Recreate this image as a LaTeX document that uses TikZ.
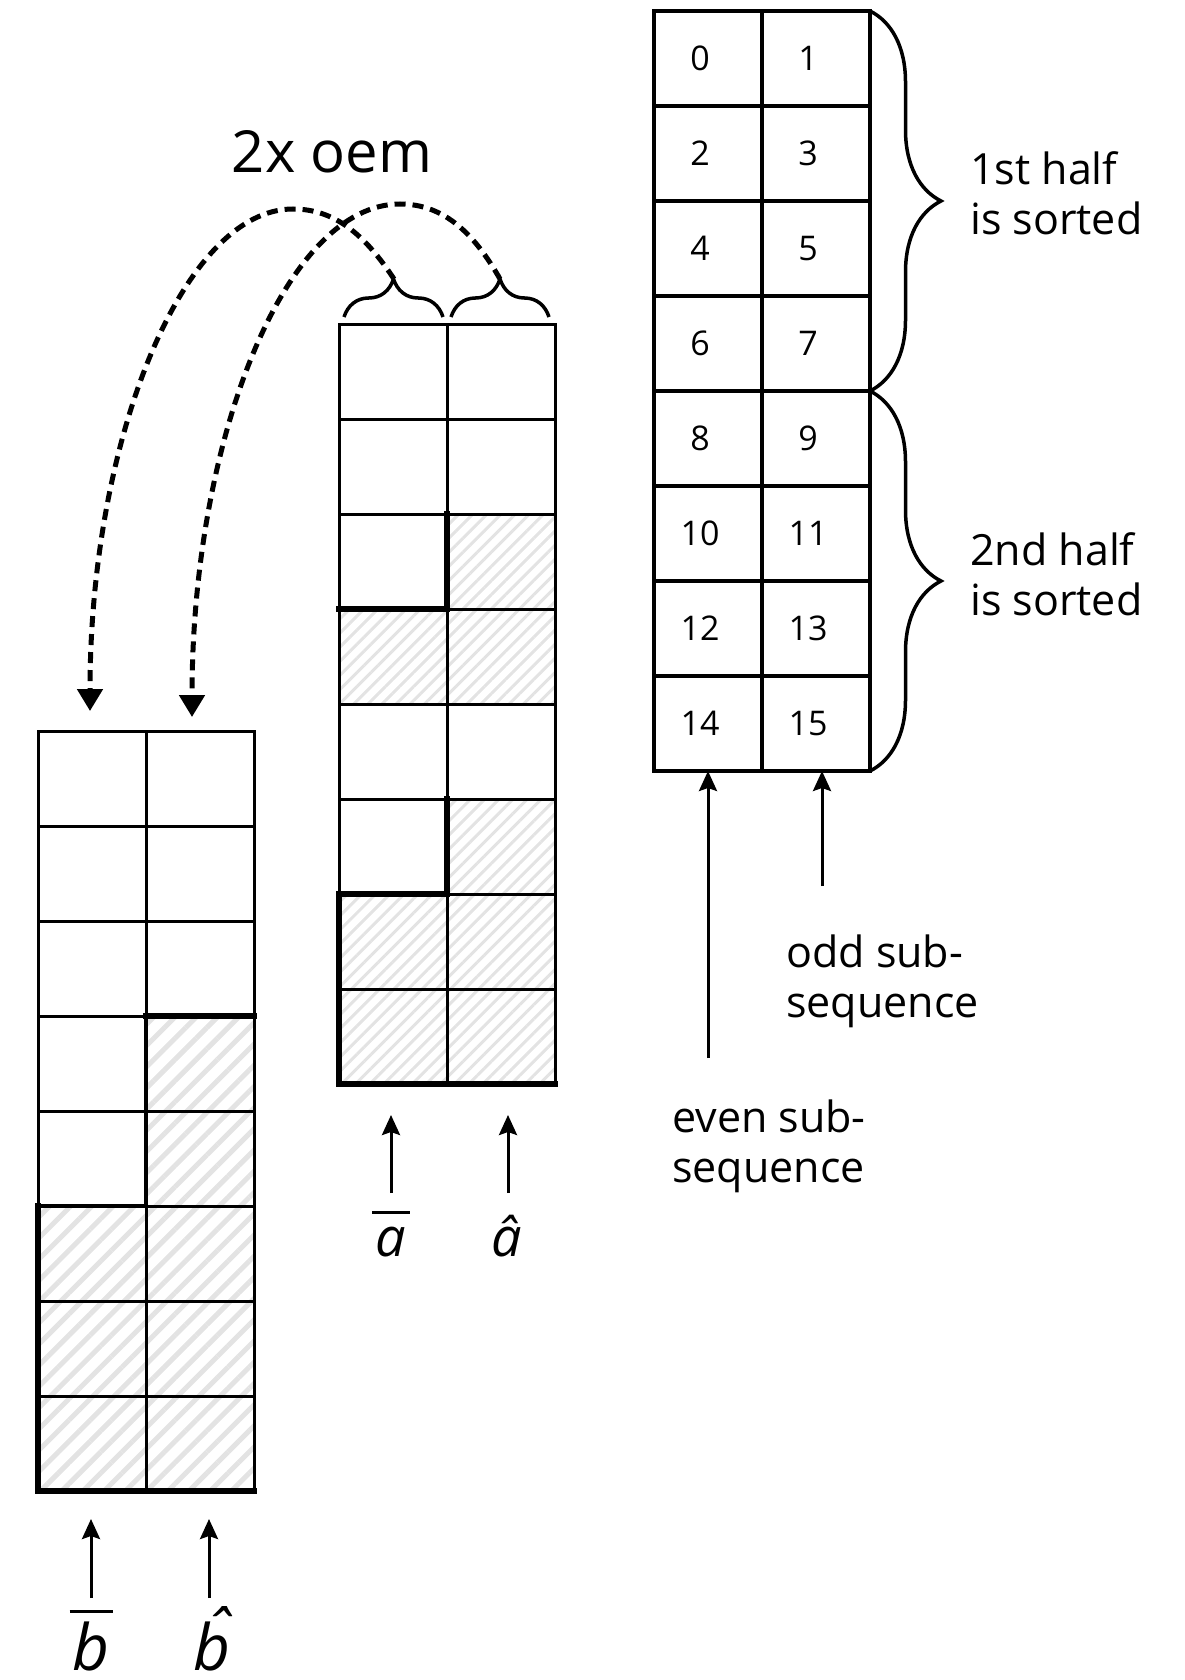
\documentclass[tikz,border=0pt]{standalone}
\usepackage{fontspec}
\setmainfont{Open Sans}
\usetikzlibrary{decorations.pathreplacing, arrows.meta, patterns.meta}
\newcommand\barred[3]{\vbox{\offinterlineskip\halign{\hfil##\hfil\cr\rule{#1}{3pt}\cr\noalign{\kern#2}#3\cr}}}
\begin{document}
\begin{tikzpicture}[x=1pt,y=-1pt,
  cell/.style={draw, line width=3pt, minimum width=108pt, minimum height=95pt, inner sep=0pt, outer sep=0pt, anchor=center},
  pl/.style={},
  hM/.style={pattern={Lines[angle=45,distance=10pt,line width=3pt]}, pattern color=black!11},
  hL/.style={pattern={Lines[angle=45,distance=15pt,line width=5pt]}, pattern color=black!11},
  thk/.style={line width=5.5pt, line cap=rect},
  uparr/.style={line width=3pt, -{Stealth[width=18pt,length=20pt,inset=3pt]}},
  dasharr/.style={line width=5pt, dash pattern=on 11pt off 7pt, -{Triangle[width=25pt,length=22pt]}},
  brc/.style={decorate, line width=3.5pt, decoration={brace, amplitude=#1}},
  lbl/.style={font=\fontsize{43}{50}\selectfont, align=left, inner sep=0pt},
  num/.style={font=\fontsize{34}{40}\selectfont, inner sep=0pt},
  mlbl/.style={inner sep=0pt, anchor=base, font=\fontsize{54}{60}\selectfont\itshape},
  blbl/.style={inner sep=0pt, anchor=base, font=\fontsize{64}{70}\selectfont\itshape},
]
\path[use as bounding box] (0,0) rectangle (1185,1680);

% right grid
\foreach \r in {0,...,7}{\foreach \c in {0,1}{%
  \pgfmathtruncatemacro\n{2*\r+\c}%
  \node[cell, line width=3.5pt, label={[num,xshift=-8pt]center:\n}] (R-\r-\c) at ({708+108*\c},{58.5+95*\r}) {};
}}

% middle grid
\foreach \r/\c/\s in {0/0/pl,0/1/pl,1/0/pl,1/1/pl,2/0/pl,2/1/hM,3/0/hM,3/1/hM,4/0/pl,4/1/pl,5/0/pl,5/1/hM,6/0/hM,6/1/hM,7/0/hM,7/1/hM}
  \node[cell,\s] (M-\r-\c) at ({393+108*\c},{371.5+95*\r}) {};
\draw[thk] (M-2-0.north east) -- (M-2-0.south east) -- (M-2-0.south west);
\draw[thk] (M-5-0.north east) -- (M-5-0.south east) -- (M-5-0.south west);
\draw[thk] (M-6-0.north west) -- (M-7-0.south west) -- (M-7-1.south east);

% left grid
\foreach \r/\c/\s in {0/0/pl,0/1/pl,1/0/pl,1/1/pl,2/0/pl,2/1/pl,3/0/pl,3/1/hL,4/0/pl,4/1/hL,5/0/hL,5/1/hL,6/0/hL,6/1/hL,7/0/hL,7/1/hL}
  \node[cell,\s] (L-\r-\c) at ({92+108*\c},{778.5+95*\r}) {};
\draw[thk] (L-3-1.north west) -- (L-3-1.north east);
\draw[thk, line width=4.5pt] (L-3-0.north east) -- (L-4-0.south east) -- (L-4-0.south west);
\draw[thk] (L-5-0.north west) -- (L-7-0.south west) -- (L-7-1.south east);

% braces
\draw[brc=71pt] (R-0-1.north east) -- (R-3-1.south east);
\draw[brc=71pt] (R-4-1.north east) -- (R-7-1.south east);
\draw[brc=38pt] (344,317) -- (443,317);
\draw[brc=38pt] (451,317) -- (549,317);
\coordinate (tipA) at (394,279);
\coordinate (tipB) at (500,279);
\coordinate (inA) at (90,711);
\coordinate (inB) at (192,717);

% dashed arrows
\draw[dasharr] (tipA) .. controls (365,235) and (335,209) .. (293,209)
  .. controls (183,209) and (90,440) .. (inA);
\draw[dasharr] (tipB) .. controls (475,235) and (445,204) .. (400,204)
  .. controls (285,204) and (192,440) .. (inB);

% texts
\node[font=\fontsize{58}{64}\selectfont, anchor=base, inner sep=0pt] (oem) at (332,173) {2x oem};
\node[lbl, anchor=base west] (h1) at (970,235) {1st half\\is sorted};
\node[lbl, anchor=base west] (h2) at (970,615) {2nd half\\is sorted};
\node[lbl, anchor=base west] (odd) at (786,1017) {odd sub-\\sequence};
\node[lbl, anchor=base west] (even) at (672,1182) {even sub-\\sequence};

% subsequence arrows
\coordinate (evtail) at (708,1058);
\coordinate (odtail) at (822,886);
\draw[uparr] (evtail) -- (evtail |- R-7-0.south);
\draw[uparr] (odtail) -- (odtail |- R-7-1.south);

% middle arrows and labels
\coordinate (atail0) at (391,1193);
\coordinate (atail1) at (508,1193);
\draw[uparr, shorten >=31pt] (atail0) -- (atail0 |- M-7-0.south);
\draw[uparr, shorten >=31pt] (atail1) -- (atail1 |- M-7-1.south);
\node[mlbl] (abar) at (391,1256) {\barred{38pt}{13pt}{a}};
\node[mlbl] (ahat) at (507,1256) {â};

% left arrows and labels
\coordinate (btail0) at (91,1598);
\coordinate (btail1) at (209,1598);
\draw[uparr, shorten >=28pt] (btail0) -- (btail0 |- L-7-0.south);
\draw[uparr, shorten >=28pt] (btail1) -- (btail1 |- L-7-1.south);
\node[blbl] (bbar) at (91,1670) {\barred{43pt}{8pt}{b}};
\node[blbl] (bhat) at (212,1670) {b̂};
\end{tikzpicture}
\end{document}
